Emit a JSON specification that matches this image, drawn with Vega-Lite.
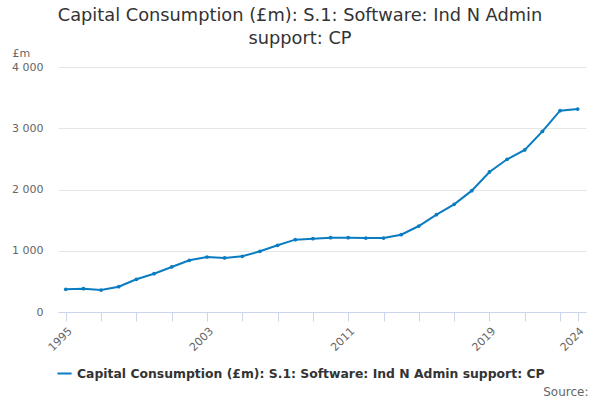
{
  "$schema": "https://vega.github.io/schema/vega-lite/v6.json",
  "width": 528,
  "height": 245,
  "autosize": "none",
  "padding": {"left": 58, "top": 67, "right": 14, "bottom": 88},
  "background": "white",
  "title": {
    "text": ["Capital Consumption (£m): S.1: Software: Ind N Admin", "support: CP"],
    "anchor": "middle",
    "frame": "group",
    "dx": -22,
    "offset": -1,
    "font": "DejaVu Sans",
    "fontSize": 17.8,
    "fontWeight": "normal",
    "color": "#333333",
    "lineHeight": 23
  },
  "data": {
    "values": [
      {"series": "Capital Consumption (£m): S.1: Software: Ind N Admin support: CP", "year": 1995, "value": 370},
      {"series": "Capital Consumption (£m): S.1: Software: Ind N Admin support: CP", "year": 1996, "value": 380},
      {"series": "Capital Consumption (£m): S.1: Software: Ind N Admin support: CP", "year": 1997, "value": 359},
      {"series": "Capital Consumption (£m): S.1: Software: Ind N Admin support: CP", "year": 1998, "value": 413},
      {"series": "Capital Consumption (£m): S.1: Software: Ind N Admin support: CP", "year": 1999, "value": 534},
      {"series": "Capital Consumption (£m): S.1: Software: Ind N Admin support: CP", "year": 2000, "value": 625},
      {"series": "Capital Consumption (£m): S.1: Software: Ind N Admin support: CP", "year": 2001, "value": 735},
      {"series": "Capital Consumption (£m): S.1: Software: Ind N Admin support: CP", "year": 2002, "value": 844},
      {"series": "Capital Consumption (£m): S.1: Software: Ind N Admin support: CP", "year": 2003, "value": 898},
      {"series": "Capital Consumption (£m): S.1: Software: Ind N Admin support: CP", "year": 2004, "value": 882},
      {"series": "Capital Consumption (£m): S.1: Software: Ind N Admin support: CP", "year": 2005, "value": 909},
      {"series": "Capital Consumption (£m): S.1: Software: Ind N Admin support: CP", "year": 2006, "value": 991},
      {"series": "Capital Consumption (£m): S.1: Software: Ind N Admin support: CP", "year": 2007, "value": 1089},
      {"series": "Capital Consumption (£m): S.1: Software: Ind N Admin support: CP", "year": 2008, "value": 1181},
      {"series": "Capital Consumption (£m): S.1: Software: Ind N Admin support: CP", "year": 2009, "value": 1197},
      {"series": "Capital Consumption (£m): S.1: Software: Ind N Admin support: CP", "year": 2010, "value": 1213},
      {"series": "Capital Consumption (£m): S.1: Software: Ind N Admin support: CP", "year": 2011, "value": 1213},
      {"series": "Capital Consumption (£m): S.1: Software: Ind N Admin support: CP", "year": 2012, "value": 1208},
      {"series": "Capital Consumption (£m): S.1: Software: Ind N Admin support: CP", "year": 2013, "value": 1208},
      {"series": "Capital Consumption (£m): S.1: Software: Ind N Admin support: CP", "year": 2014, "value": 1262},
      {"series": "Capital Consumption (£m): S.1: Software: Ind N Admin support: CP", "year": 2015, "value": 1404},
      {"series": "Capital Consumption (£m): S.1: Software: Ind N Admin support: CP", "year": 2016, "value": 1589},
      {"series": "Capital Consumption (£m): S.1: Software: Ind N Admin support: CP", "year": 2017, "value": 1758},
      {"series": "Capital Consumption (£m): S.1: Software: Ind N Admin support: CP", "year": 2018, "value": 1981},
      {"series": "Capital Consumption (£m): S.1: Software: Ind N Admin support: CP", "year": 2019, "value": 2286},
      {"series": "Capital Consumption (£m): S.1: Software: Ind N Admin support: CP", "year": 2020, "value": 2493},
      {"series": "Capital Consumption (£m): S.1: Software: Ind N Admin support: CP", "year": 2021, "value": 2645},
      {"series": "Capital Consumption (£m): S.1: Software: Ind N Admin support: CP", "year": 2022, "value": 2950},
      {"series": "Capital Consumption (£m): S.1: Software: Ind N Admin support: CP", "year": 2023, "value": 3287},
      {"series": "Capital Consumption (£m): S.1: Software: Ind N Admin support: CP", "year": 2024, "value": 3314}
    ]
  },
  "mark": {
    "type": "line",
    "strokeWidth": 2,
    "point": {"size": 14, "filled": true}
  },
  "encoding": {
    "x": {
      "field": "year",
      "type": "quantitative",
      "scale": {"domain": [1994.56, 2024.47], "nice": false, "zero": false},
      "axis": {
        "values": [1995, 1997, 1999, 2001, 2003, 2005, 2007, 2009, 2011, 2013, 2015, 2017, 2019, 2021, 2023, 2024],
        "format": "d",
        "labelExpr": "(datum.value == 1995 || datum.value == 2003 || datum.value == 2011 || datum.value == 2019 || datum.value == 2024) ? datum.label : ''",
        "labelAngle": -45,
        "labelAlign": "right",
        "labelBaseline": "top",
        "labelFont": "DejaVu Sans",
        "labelFontSize": 11,
        "labelColor": "#666666",
        "labelPadding": 4,
        "labelOverlap": false,
        "labelFlush": false,
        "grid": false,
        "domainColor": "#ccd6eb",
        "tickColor": "#ccd6eb",
        "tickSize": 9,
        "title": "Source:",
        "titleFont": "DejaVu Sans",
        "titleFontSize": 12,
        "titleFontWeight": "normal",
        "titleColor": "#666666",
        "titleAnchor": "end",
        "titleAlign": "right",
        "titleX": 530,
        "titleY": 86,
        "titleBaseline": "bottom"
      }
    },
    "y": {
      "field": "value",
      "type": "quantitative",
      "scale": {"domain": [0, 4000], "nice": false},
      "axis": {
        "values": [0, 1000, 2000, 3000, 4000],
        "labelExpr": "replace(format(datum.value, ','), ',', ' ')",
        "labelFont": "DejaVu Sans",
        "labelFontSize": 11,
        "labelColor": "#666666",
        "labelPadding": 15,
        "domain": false,
        "ticks": false,
        "gridColor": "#e6e6e6",
        "title": "£m",
        "titleAngle": 0,
        "titleAlign": "left",
        "titleBaseline": "bottom",
        "titleX": -46,
        "titleY": -9,
        "titleFont": "DejaVu Sans",
        "titleFontSize": 11,
        "titleFontWeight": "normal",
        "titleColor": "#666666"
      }
    },
    "color": {
      "field": "series",
      "type": "nominal",
      "scale": {"range": ["#0a7cc1"]},
      "legend": {
        "title": null,
        "orient": "none",
        "legendX": -2,
        "legendY": 298,
        "symbolType": "stroke",
        "symbolStrokeWidth": 2,
        "symbolSize": 200,
        "labelFont": "DejaVu Sans",
        "labelFontSize": 12.4,
        "labelFontWeight": "bold",
        "labelColor": "#333333",
        "labelLimit": 600
      }
    }
  },
  "config": {"view": {"stroke": null}}
}
